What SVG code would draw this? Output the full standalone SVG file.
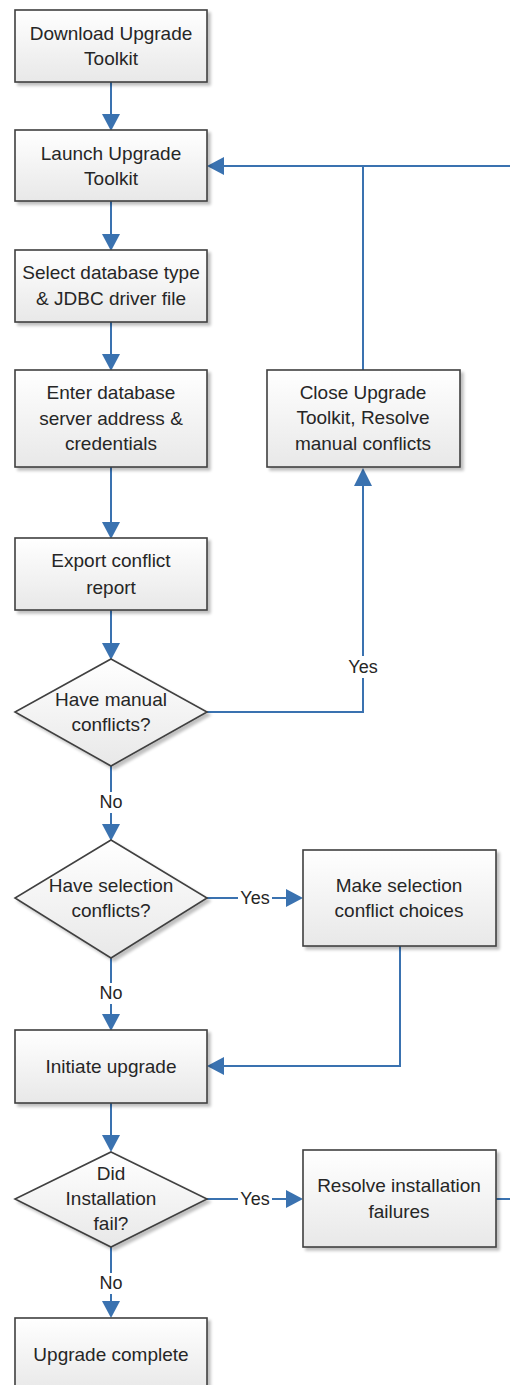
<svg xmlns="http://www.w3.org/2000/svg" width="510" height="1385" viewBox="0 0 510 1385">
<defs>
<linearGradient id="g" x1="0" y1="0" x2="0" y2="1">
<stop offset="0" stop-color="#ffffff"/>
<stop offset="1" stop-color="#e8e8e8"/>
</linearGradient>
<filter id="sh" x="-10%" y="-10%" width="130%" height="130%">
<feGaussianBlur in="SourceAlpha" stdDeviation="1.5"/>
<feOffset dx="3" dy="3" result="b"/>
<feComponentTransfer><feFuncA type="linear" slope="0.25"/></feComponentTransfer>
<feMerge><feMergeNode/><feMergeNode in="SourceGraphic"/></feMerge>
</filter>
</defs>
<style>
.n{fill:url(#g);stroke:#404040;stroke-width:1.6;filter:url(#sh)}
.t{font-family:"Liberation Sans",Arial,sans-serif;font-size:19px;fill:#262626;text-anchor:middle;dominant-baseline:central}
.c{fill:none;stroke:#3a72b0;stroke-width:2}
.a{fill:#3a72b0}
.l{font-family:"Liberation Sans",Arial,sans-serif;font-size:18px;fill:#262626;text-anchor:middle;dominant-baseline:central}
</style>
<rect width="510" height="1385" fill="#ffffff"/>
<g id="connectors">
<path class="c" d="M111,82 V116"/>
<path class="a" d="M102,114 L120,114 L111,131 Z"/>
<path class="c" d="M111,201 V236"/>
<path class="a" d="M102,234 L120,234 L111,251 Z"/>
<path class="c" d="M111,322 V356"/>
<path class="a" d="M102,354 L120,354 L111,371 Z"/>
<path class="c" d="M111,467 V524"/>
<path class="a" d="M102,522 L120,522 L111,539 Z"/>
<path class="c" d="M111,610 V645"/>
<path class="a" d="M102,643 L120,643 L111,660 Z"/>
<path class="c" d="M207,712 H363 V484"/>
<path class="a" d="M354,486 L372,486 L363,468 Z"/>
<path class="c" d="M363,370 V166"/>
<path class="c" d="M510,166 H222"/>
<path class="a" d="M224,157 L224,175 L207,166 Z"/>
<rect x="344" y="656" width="38" height="22" fill="#ffffff"/>
<text class="l" x="363" y="667">Yes</text>
<path class="c" d="M111,766 V826"/>
<path class="a" d="M102,824 L120,824 L111,841 Z"/>
<rect x="96" y="792" width="30" height="21" fill="#ffffff"/>
<text class="l" x="111" y="802">No</text>
<path class="c" d="M207,898 H288"/>
<path class="a" d="M286,889 L286,907 L303,898 Z"/>
<rect x="238" y="887" width="34" height="22" fill="#ffffff"/>
<text class="l" x="255" y="898">Yes</text>
<path class="c" d="M111,958 V1016"/>
<path class="a" d="M102,1014 L120,1014 L111,1031 Z"/>
<rect x="96" y="983" width="30" height="21" fill="#ffffff"/>
<text class="l" x="111" y="993">No</text>
<path class="c" d="M400,946 V1066 H222"/>
<path class="a" d="M224,1057 L224,1075 L207,1066 Z"/>
<path class="c" d="M111,1103 V1137"/>
<path class="a" d="M102,1135 L120,1135 L111,1152 Z"/>
<path class="c" d="M207,1199 H288"/>
<path class="a" d="M286,1190 L286,1208 L303,1199 Z"/>
<rect x="238" y="1188" width="34" height="22" fill="#ffffff"/>
<text class="l" x="255" y="1199">Yes</text>
<path class="c" d="M496,1199 H510"/>
<path class="c" d="M111,1247 V1303"/>
<path class="a" d="M102,1301 L120,1301 L111,1318 Z"/>
<rect x="96" y="1273" width="30" height="21" fill="#ffffff"/>
<text class="l" x="111" y="1283">No</text>
</g>
<g id="download"><rect class="n" x="15" y="10" width="192" height="72"/><text class="t" x="111" y="33">Download Upgrade</text><text class="t" x="111" y="58">Toolkit</text></g>
<g id="launch"><rect class="n" x="15" y="130" width="192" height="71"/><text class="t" x="111" y="153">Launch Upgrade</text><text class="t" x="111" y="178">Toolkit</text></g>
<g id="select"><rect class="n" x="15" y="250" width="192" height="72"/><text class="t" x="111" y="272">Select database type</text><text class="t" x="111" y="298">&amp; JDBC driver file</text></g>
<g id="enter"><rect class="n" x="15" y="370" width="192" height="97"/><text class="t" x="111" y="392">Enter database</text><text class="t" x="111" y="418">server address &amp;</text><text class="t" x="111" y="443">credentials</text></g>
<g id="export"><rect class="n" x="15" y="538" width="192" height="72"/><text class="t" x="111" y="560">Export conflict</text><text class="t" x="111" y="587">report</text></g>
<g id="close"><rect class="n" x="267" y="370" width="193" height="97"/><text class="t" x="363" y="392">Close Upgrade</text><text class="t" x="363" y="417">Toolkit, Resolve</text><text class="t" x="363" y="443">manual conflicts</text></g>
<g id="manual"><path class="n" d="M111,659 L207,712 L111,766 L15,712 Z"/><text class="t" x="111" y="699">Have manual</text><text class="t" x="111" y="724">conflicts?</text></g>
<g id="selection"><path class="n" d="M111,840 L207,898 L111,958 L15,898 Z"/><text class="t" x="111" y="885">Have selection</text><text class="t" x="111" y="910">conflicts?</text></g>
<g id="makesel"><rect class="n" x="303" y="850" width="193" height="96"/><text class="t" x="399" y="885">Make selection</text><text class="t" x="399" y="910">conflict choices</text></g>
<g id="initiate"><rect class="n" x="15" y="1030" width="192" height="73"/><text class="t" x="111" y="1066">Initiate upgrade</text></g>
<g id="didfail"><path class="n" d="M111,1152 L207,1199 L111,1247 L15,1199 Z"/><text class="t" x="111" y="1173">Did</text><text class="t" x="111" y="1198">Installation</text><text class="t" x="111" y="1223">fail?</text></g>
<g id="resolve"><rect class="n" x="303" y="1150" width="193" height="97"/><text class="t" x="399" y="1185">Resolve installation</text><text class="t" x="399" y="1211">failures</text></g>
<g id="complete"><rect class="n" x="15" y="1318" width="192" height="74"/><text class="t" x="111" y="1354">Upgrade complete</text></g>
</svg>
